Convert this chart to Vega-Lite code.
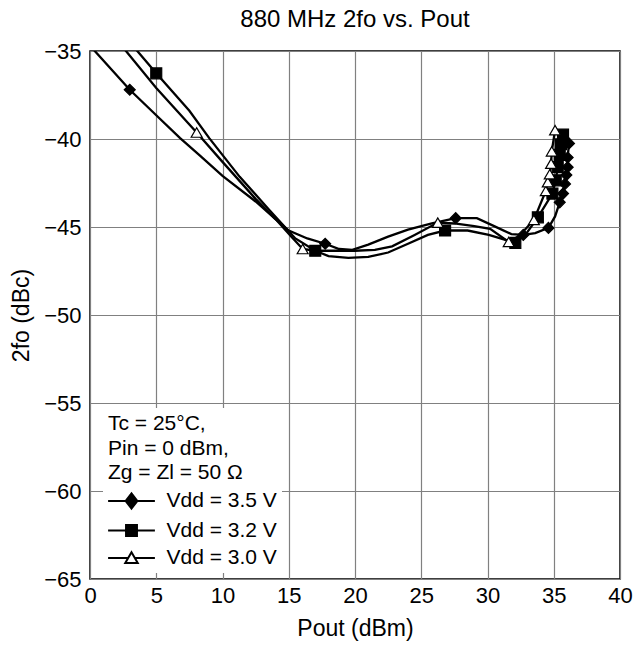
{
  "$schema": "https://vega.github.io/schema/vega-lite/v6.json",
  "autosize": {"type": "none"},
  "padding": {"left": 90, "top": 51, "right": 15, "bottom": 72},
  "width": 530,
  "height": 528,
  "background": "white",
  "title": {"text": "880 MHz  2fo vs. Pout", "font": "Liberation Sans", "fontSize": 24, "fontWeight": "normal", "color": "black", "anchor": "middle", "offset": 8},
  "config": {
    "view": {"stroke": "black", "strokeWidth": 1.5},
    "axis": {"labelFont": "Liberation Sans", "labelFontSize": 22, "labelColor": "black", "titleFont": "Liberation Sans", "titleFontSize": 23, "titleFontWeight": "normal", "titleColor": "black", "grid": true, "gridColor": "#808080", "gridWidth": 1.2, "domain": false, "ticks": false, "labelFlush": false, "labelOverlap": false}
  },
  "data": {"values": [
    {"s": "Vdd = 3.5 V", "x": 0.3, "y": -34.95, "m": 0},
    {"s": "Vdd = 3.5 V", "x": 3.0, "y": -37.2, "m": 1},
    {"s": "Vdd = 3.5 V", "x": 5.0, "y": -38.65, "m": 0},
    {"s": "Vdd = 3.5 V", "x": 6.8, "y": -39.95, "m": 0},
    {"s": "Vdd = 3.5 V", "x": 8.3, "y": -40.95, "m": 0},
    {"s": "Vdd = 3.5 V", "x": 10.0, "y": -42.1, "m": 0},
    {"s": "Vdd = 3.5 V", "x": 12.5, "y": -43.55, "m": 0},
    {"s": "Vdd = 3.5 V", "x": 14.0, "y": -44.55, "m": 0},
    {"s": "Vdd = 3.5 V", "x": 15.0, "y": -45.2, "m": 0},
    {"s": "Vdd = 3.5 V", "x": 16.4, "y": -45.65, "m": 0},
    {"s": "Vdd = 3.5 V", "x": 17.75, "y": -45.95, "m": 1},
    {"s": "Vdd = 3.5 V", "x": 18.8, "y": -46.25, "m": 0},
    {"s": "Vdd = 3.5 V", "x": 19.8, "y": -46.3, "m": 0},
    {"s": "Vdd = 3.5 V", "x": 21.0, "y": -46.0, "m": 0},
    {"s": "Vdd = 3.5 V", "x": 22.5, "y": -45.55, "m": 0},
    {"s": "Vdd = 3.5 V", "x": 24.0, "y": -45.15, "m": 0},
    {"s": "Vdd = 3.5 V", "x": 25.8, "y": -44.8, "m": 0},
    {"s": "Vdd = 3.5 V", "x": 27.6, "y": -44.5, "m": 1},
    {"s": "Vdd = 3.5 V", "x": 29.2, "y": -44.5, "m": 0},
    {"s": "Vdd = 3.5 V", "x": 30.5, "y": -44.95, "m": 0},
    {"s": "Vdd = 3.5 V", "x": 31.8, "y": -45.4, "m": 0},
    {"s": "Vdd = 3.5 V", "x": 32.7, "y": -45.45, "m": 1},
    {"s": "Vdd = 3.5 V", "x": 33.6, "y": -45.35, "m": 0},
    {"s": "Vdd = 3.5 V", "x": 34.6, "y": -45.05, "m": 1},
    {"s": "Vdd = 3.5 V", "x": 35.1, "y": -44.4, "m": 0},
    {"s": "Vdd = 3.5 V", "x": 35.45, "y": -43.6, "m": 1},
    {"s": "Vdd = 3.5 V", "x": 35.7, "y": -43.1, "m": 1},
    {"s": "Vdd = 3.5 V", "x": 35.85, "y": -42.55, "m": 1},
    {"s": "Vdd = 3.5 V", "x": 35.95, "y": -42.05, "m": 1},
    {"s": "Vdd = 3.5 V", "x": 36.05, "y": -41.6, "m": 1},
    {"s": "Vdd = 3.5 V", "x": 36.05, "y": -41.05, "m": 1},
    {"s": "Vdd = 3.5 V", "x": 36.15, "y": -40.25, "m": 1},

    {"s": "Vdd = 3.2 V", "x": 3.4, "y": -34.85, "m": 0},
    {"s": "Vdd = 3.2 V", "x": 5.0, "y": -36.27, "m": 1},
    {"s": "Vdd = 3.2 V", "x": 7.5, "y": -38.4, "m": 0},
    {"s": "Vdd = 3.2 V", "x": 9.0, "y": -39.95, "m": 0},
    {"s": "Vdd = 3.2 V", "x": 11.3, "y": -42.15, "m": 0},
    {"s": "Vdd = 3.2 V", "x": 13.5, "y": -44.0, "m": 0},
    {"s": "Vdd = 3.2 V", "x": 15.5, "y": -45.65, "m": 0},
    {"s": "Vdd = 3.2 V", "x": 17.0, "y": -46.35, "m": 1},
    {"s": "Vdd = 3.2 V", "x": 18.0, "y": -46.65, "m": 0},
    {"s": "Vdd = 3.2 V", "x": 19.5, "y": -46.75, "m": 0},
    {"s": "Vdd = 3.2 V", "x": 21.0, "y": -46.7, "m": 0},
    {"s": "Vdd = 3.2 V", "x": 22.5, "y": -46.45, "m": 0},
    {"s": "Vdd = 3.2 V", "x": 24.0, "y": -45.95, "m": 0},
    {"s": "Vdd = 3.2 V", "x": 25.5, "y": -45.45, "m": 0},
    {"s": "Vdd = 3.2 V", "x": 26.8, "y": -45.2, "m": 1},
    {"s": "Vdd = 3.2 V", "x": 28.5, "y": -45.2, "m": 0},
    {"s": "Vdd = 3.2 V", "x": 30.1, "y": -45.45, "m": 0},
    {"s": "Vdd = 3.2 V", "x": 32.1, "y": -45.9, "m": 1},
    {"s": "Vdd = 3.2 V", "x": 33.0, "y": -45.3, "m": 0},
    {"s": "Vdd = 3.2 V", "x": 33.8, "y": -44.45, "m": 1},
    {"s": "Vdd = 3.2 V", "x": 34.9, "y": -43.1, "m": 1},
    {"s": "Vdd = 3.2 V", "x": 35.15, "y": -42.35, "m": 1},
    {"s": "Vdd = 3.2 V", "x": 35.3, "y": -41.6, "m": 1},
    {"s": "Vdd = 3.2 V", "x": 35.45, "y": -40.9, "m": 1},
    {"s": "Vdd = 3.2 V", "x": 35.55, "y": -40.3, "m": 1},
    {"s": "Vdd = 3.2 V", "x": 35.7, "y": -39.75, "m": 1},

    {"s": "Vdd = 3.0 V", "x": 2.55, "y": -34.85, "m": 0},
    {"s": "Vdd = 3.0 V", "x": 5.0, "y": -37.1, "m": 0},
    {"s": "Vdd = 3.0 V", "x": 8.05, "y": -39.63, "m": 1},
    {"s": "Vdd = 3.0 V", "x": 10.0, "y": -41.3, "m": 0},
    {"s": "Vdd = 3.0 V", "x": 12.5, "y": -43.4, "m": 0},
    {"s": "Vdd = 3.0 V", "x": 14.0, "y": -44.55, "m": 0},
    {"s": "Vdd = 3.0 V", "x": 15.2, "y": -45.55, "m": 0},
    {"s": "Vdd = 3.0 V", "x": 16.05, "y": -46.25, "m": 1},
    {"s": "Vdd = 3.0 V", "x": 17.0, "y": -46.35, "m": 0},
    {"s": "Vdd = 3.0 V", "x": 18.5, "y": -46.35, "m": 0},
    {"s": "Vdd = 3.0 V", "x": 20.0, "y": -46.35, "m": 0},
    {"s": "Vdd = 3.0 V", "x": 21.5, "y": -46.3, "m": 0},
    {"s": "Vdd = 3.0 V", "x": 22.8, "y": -46.1, "m": 0},
    {"s": "Vdd = 3.0 V", "x": 24.5, "y": -45.45, "m": 0},
    {"s": "Vdd = 3.0 V", "x": 26.25, "y": -44.75, "m": 1},
    {"s": "Vdd = 3.0 V", "x": 27.5, "y": -44.8, "m": 0},
    {"s": "Vdd = 3.0 V", "x": 29.0, "y": -44.95, "m": 0},
    {"s": "Vdd = 3.0 V", "x": 30.2, "y": -45.1, "m": 0},
    {"s": "Vdd = 3.0 V", "x": 31.6, "y": -45.85, "m": 1},
    {"s": "Vdd = 3.0 V", "x": 32.4, "y": -45.5, "m": 0},
    {"s": "Vdd = 3.0 V", "x": 33.5, "y": -44.6, "m": 1},
    {"s": "Vdd = 3.0 V", "x": 34.4, "y": -42.95, "m": 1},
    {"s": "Vdd = 3.0 V", "x": 34.55, "y": -42.45, "m": 1},
    {"s": "Vdd = 3.0 V", "x": 34.7, "y": -42.0, "m": 1},
    {"s": "Vdd = 3.0 V", "x": 34.8, "y": -41.4, "m": 1},
    {"s": "Vdd = 3.0 V", "x": 34.85, "y": -40.7, "m": 1},
    {"s": "Vdd = 3.0 V", "x": 35.1, "y": -39.5, "m": 1}
  ]},
  "encoding": {
    "x": {"field": "x", "type": "quantitative", "scale": {"domain": [0, 40], "nice": false, "zero": false},
      "axis": {"values": [0, 5, 10, 15, 20, 25, 30, 35, 40], "title": "Pout (dBm)", "labelPadding": 6, "titlePadding": 11}},
    "y": {"field": "y", "type": "quantitative", "scale": {"domain": [-65, -35], "nice": false, "zero": false},
      "axis": {"values": [-65, -60, -55, -50, -45, -40, -35], "title": "2fo (dBc)", "labelPadding": 9, "titlePadding": 10}}
  },
  "layer": [
    {
      "mark": {"type": "line", "color": "black", "strokeWidth": 2.3, "clip": true, "interpolate": "linear"},
      "encoding": {"detail": {"field": "s"}, "order": {"value": null}}
    },
    {
      "transform": [{"filter": "datum.m == 1"}],
      "mark": {"type": "point", "filled": true, "stroke": "black", "strokeWidth": 1.2, "size": 120, "opacity": 1, "clip": true},
      "encoding": {
        "shape": {"field": "s", "type": "nominal",
          "scale": {"domain": ["Vdd = 3.5 V", "Vdd = 3.2 V", "Vdd = 3.0 V"], "range": ["diamond", "square", "triangle-up"]},
          "legend": null},
        "fill": {"field": "s", "type": "nominal",
          "scale": {"domain": ["Vdd = 3.5 V", "Vdd = 3.2 V", "Vdd = 3.0 V"], "range": ["black", "black", "white"]},
          "legend": null}
      }
    },
    {
      "transform": [{"filter": "datum.m == 2"}],
      "mark": {"type": "point", "filled": true, "strokeWidth": 2, "opacity": 1},
      "encoding": {
        "shape": {"field": "s", "type": "nominal",
          "scale": {"domain": ["Vdd = 3.5 V", "Vdd = 3.2 V", "Vdd = 3.0 V"], "range": ["M-1.8,0H1.8M0,-0.58L0.45,0L0,0.58L-0.45,0Z", "M-1.8,0H1.8M-0.42,-0.42H0.42V0.42H-0.42Z", "M-1.8,0H-0.26M0.26,0H1.8M0,-0.45L0.48,0.38L-0.48,0.38Z"]},
          "legend": {"title": ["Tc = 25°C,", "Pin = 0 dBm,", "Zg = Zl = 50 Ω"], "orient": "none", "legendX": 13, "legendY": 357, "fillColor": "white", "padding": 5, "titleFont": "Liberation Sans", "titleFontSize": 21, "titleFontWeight": "normal", "titleColor": "black", "titleLineHeight": 24.5, "titlePadding": 4, "labelFont": "Liberation Sans", "labelFontSize": 21, "labelColor": "black", "symbolSize": 676, "symbolOffset": 9.5, "labelOffset": 21, "rowPadding": 3.5, "symbolStrokeWidth": 2, "symbolOpacity": 1}},
        "fill": {"field": "s", "type": "nominal",
          "scale": {"domain": ["Vdd = 3.5 V", "Vdd = 3.2 V", "Vdd = 3.0 V"], "range": ["black", "black", "white"]},
          "legend": {"title": ["Tc = 25°C,", "Pin = 0 dBm,", "Zg = Zl = 50 Ω"], "orient": "none", "legendX": 13, "legendY": 357, "fillColor": "white", "padding": 5, "titleFont": "Liberation Sans", "titleFontSize": 21, "titleFontWeight": "normal", "titleColor": "black", "titleLineHeight": 24.5, "titlePadding": 4, "labelFont": "Liberation Sans", "labelFontSize": 21, "labelColor": "black", "symbolSize": 676, "symbolOffset": 9.5, "labelOffset": 21, "rowPadding": 3.5, "symbolStrokeWidth": 2, "symbolOpacity": 1}},
        "stroke": {"field": "s", "type": "nominal",
          "scale": {"domain": ["Vdd = 3.5 V", "Vdd = 3.2 V", "Vdd = 3.0 V"], "range": ["black", "black", "black"]},
          "legend": {"title": ["Tc = 25°C,", "Pin = 0 dBm,", "Zg = Zl = 50 Ω"], "orient": "none", "legendX": 13, "legendY": 357, "fillColor": "white", "padding": 5, "titleFont": "Liberation Sans", "titleFontSize": 21, "titleFontWeight": "normal", "titleColor": "black", "titleLineHeight": 24.5, "titlePadding": 4, "labelFont": "Liberation Sans", "labelFontSize": 21, "labelColor": "black", "symbolSize": 676, "symbolOffset": 9.5, "labelOffset": 21, "rowPadding": 3.5, "symbolStrokeWidth": 2, "symbolOpacity": 1}}
      }
    }
  ],
  "resolve": {"scale": {"shape": "independent", "fill": "independent", "stroke": "independent"}}
}
